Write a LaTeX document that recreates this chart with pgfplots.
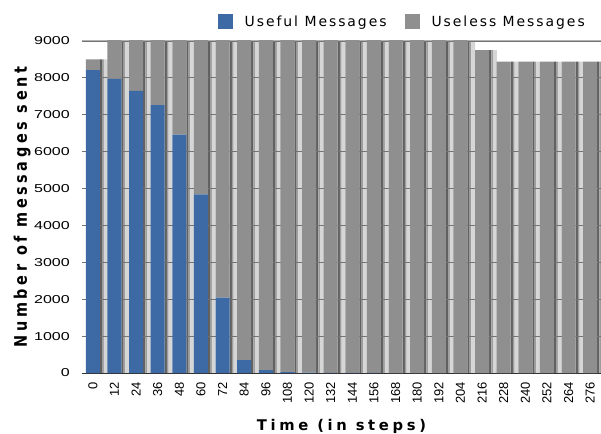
\documentclass[border=0pt]{standalone}
\usepackage{fontspec}
\setmainfont{DejaVu Sans}
\newfontfamily\tickfont[FakeStretch=1.4]{Liberation Sans}
\newfontfamily\xtickfont{Liberation Sans}
\newfontfamily\legfont[LetterSpace=14]{DejaVu Sans}
\newfontfamily\labfont[LetterSpace=25]{DejaVu Sans}
\usepackage{pgfplots}
\usepackage{pgfplotstable}
\pgfplotsset{compat=1.18}
\usetikzlibrary{calc}
\definecolor{useful}{RGB}{61,106,165}
\definecolor{useless}{RGB}{143,143,143}
\pgfplotstableread{
idx useful useless total
0 8210 290 8500
1 7970 1530 9500
2 7650 1850 9500
3 7260 2240 9500
4 6460 3040 9500
5 4840 4660 9500
6 2040 7460 9500
7 350 9150 9500
8 80 9420 9500
9 25 9475 9500
10 10 9490 9500
11 5 9495 9500
12 5 9495 9500
13 5 9495 9500
14 0 9500 9500
15 0 9500 9500
16 0 9500 9500
17 0 9500 9500
18 0 8750 8750
19 0 8440 8440
20 0 8440 8440
21 0 8440 8440
22 0 8440 8440
23 0 8440 8440
}\data
\begin{document}
\begin{tikzpicture}
\pgfplotsset{
  base/.style={scale only axis, width=519bp, height=332bp,
    xmin=-0.5, xmax=23.5, ymin=0, ymax=9000,
    axis line style={draw=none}, tick style={draw=none}}
}
\begin{axis}[base, ybar, xtick=\empty, ytick=\empty]
\addplot[fill=black!62, draw=none, bar width=2.2bp, bar shift=8.1bp] table[x=idx,y=total]{\data};
\addplot[fill=black!38, draw=none, bar width=1.8bp, bar shift=10.1bp] table[x=idx,y=total]{\data};
\addplot[fill=black!16, draw=none, bar width=3.7bp, bar shift=12.85bp] table[x=idx,y=total]{\data};
\end{axis}
\begin{axis}[base, ybar stacked, bar width=14bp,
  ymajorgrids, grid style={black!55, line width=0.8bp},
  ytick={0,1000,...,9000},
  /pgf/number format/assume math mode=true,
  /pgf/number format/1000 sep={},
  yticklabel style={font=\tickfont\fontsize{11.5}{12}\selectfont, anchor=east, inner sep=0pt, xshift=-12bp},
  xtick=data,
  xticklabels={0,12,24,36,48,60,72,84,96,108,120,132,144,156,168,180,192,204,216,228,240,252,264,276},
  xticklabel style={font=\xtickfont\fontsize{13}{13}\selectfont, yshift=-9bp, rotate=90, anchor=east, inner sep=0pt},
  xlabel={Time (in steps)},
  xlabel style={font=\labfont\bfseries\fontsize{14.8}{15}\selectfont, at={(axis description cs:0.5,0)}, anchor=base, yshift=-57.7bp},
  ylabel={Number of messages sent},
  ylabel style={font=\labfont\bfseries\fontsize{14.5}{15}\selectfont, at={(axis description cs:0,0.5)}, anchor=base, yshift=55bp, yscale=1.2},
  legend style={at={(rel axis cs:1,1)}, anchor=east, xshift=-16bp, yshift=19bp, draw=none, fill=none,
    inner sep=0pt, font=\legfont\fontsize{14}{16}\selectfont, legend columns=2,
    nodes={inner sep=0pt},
    /tikz/every odd column/.append style={column sep=12bp},
    /tikz/every even column/.append style={column sep=18bp}},
  legend image code/.code={\fill[#1] (0bp,-7.5bp) rectangle (15bp,7.5bp);},
]
\addplot[fill=useful, draw=none] table[x=idx,y=useful]{\data};
\addlegendentry{Useful Messages}
\addplot[fill=useless, draw=none] table[x=idx,y=useless]{\data};
\addlegendentry{Useless Messages}
\coordinate (bl) at (rel axis cs:0,0);
\coordinate (tr) at (rel axis cs:1,1);
\draw[black!80, line width=1bp] (rel axis cs:0,0) -- (rel axis cs:1,0);
\draw[black!30, line width=1bp] (rel axis cs:0,1) -- (rel axis cs:1,1);
\end{axis}
\pgfresetboundingbox
\path ($(bl)+(-82bp,-61bp)$) rectangle ($(tr)+(0bp,41bp)$);
\end{tikzpicture}
\end{document}
